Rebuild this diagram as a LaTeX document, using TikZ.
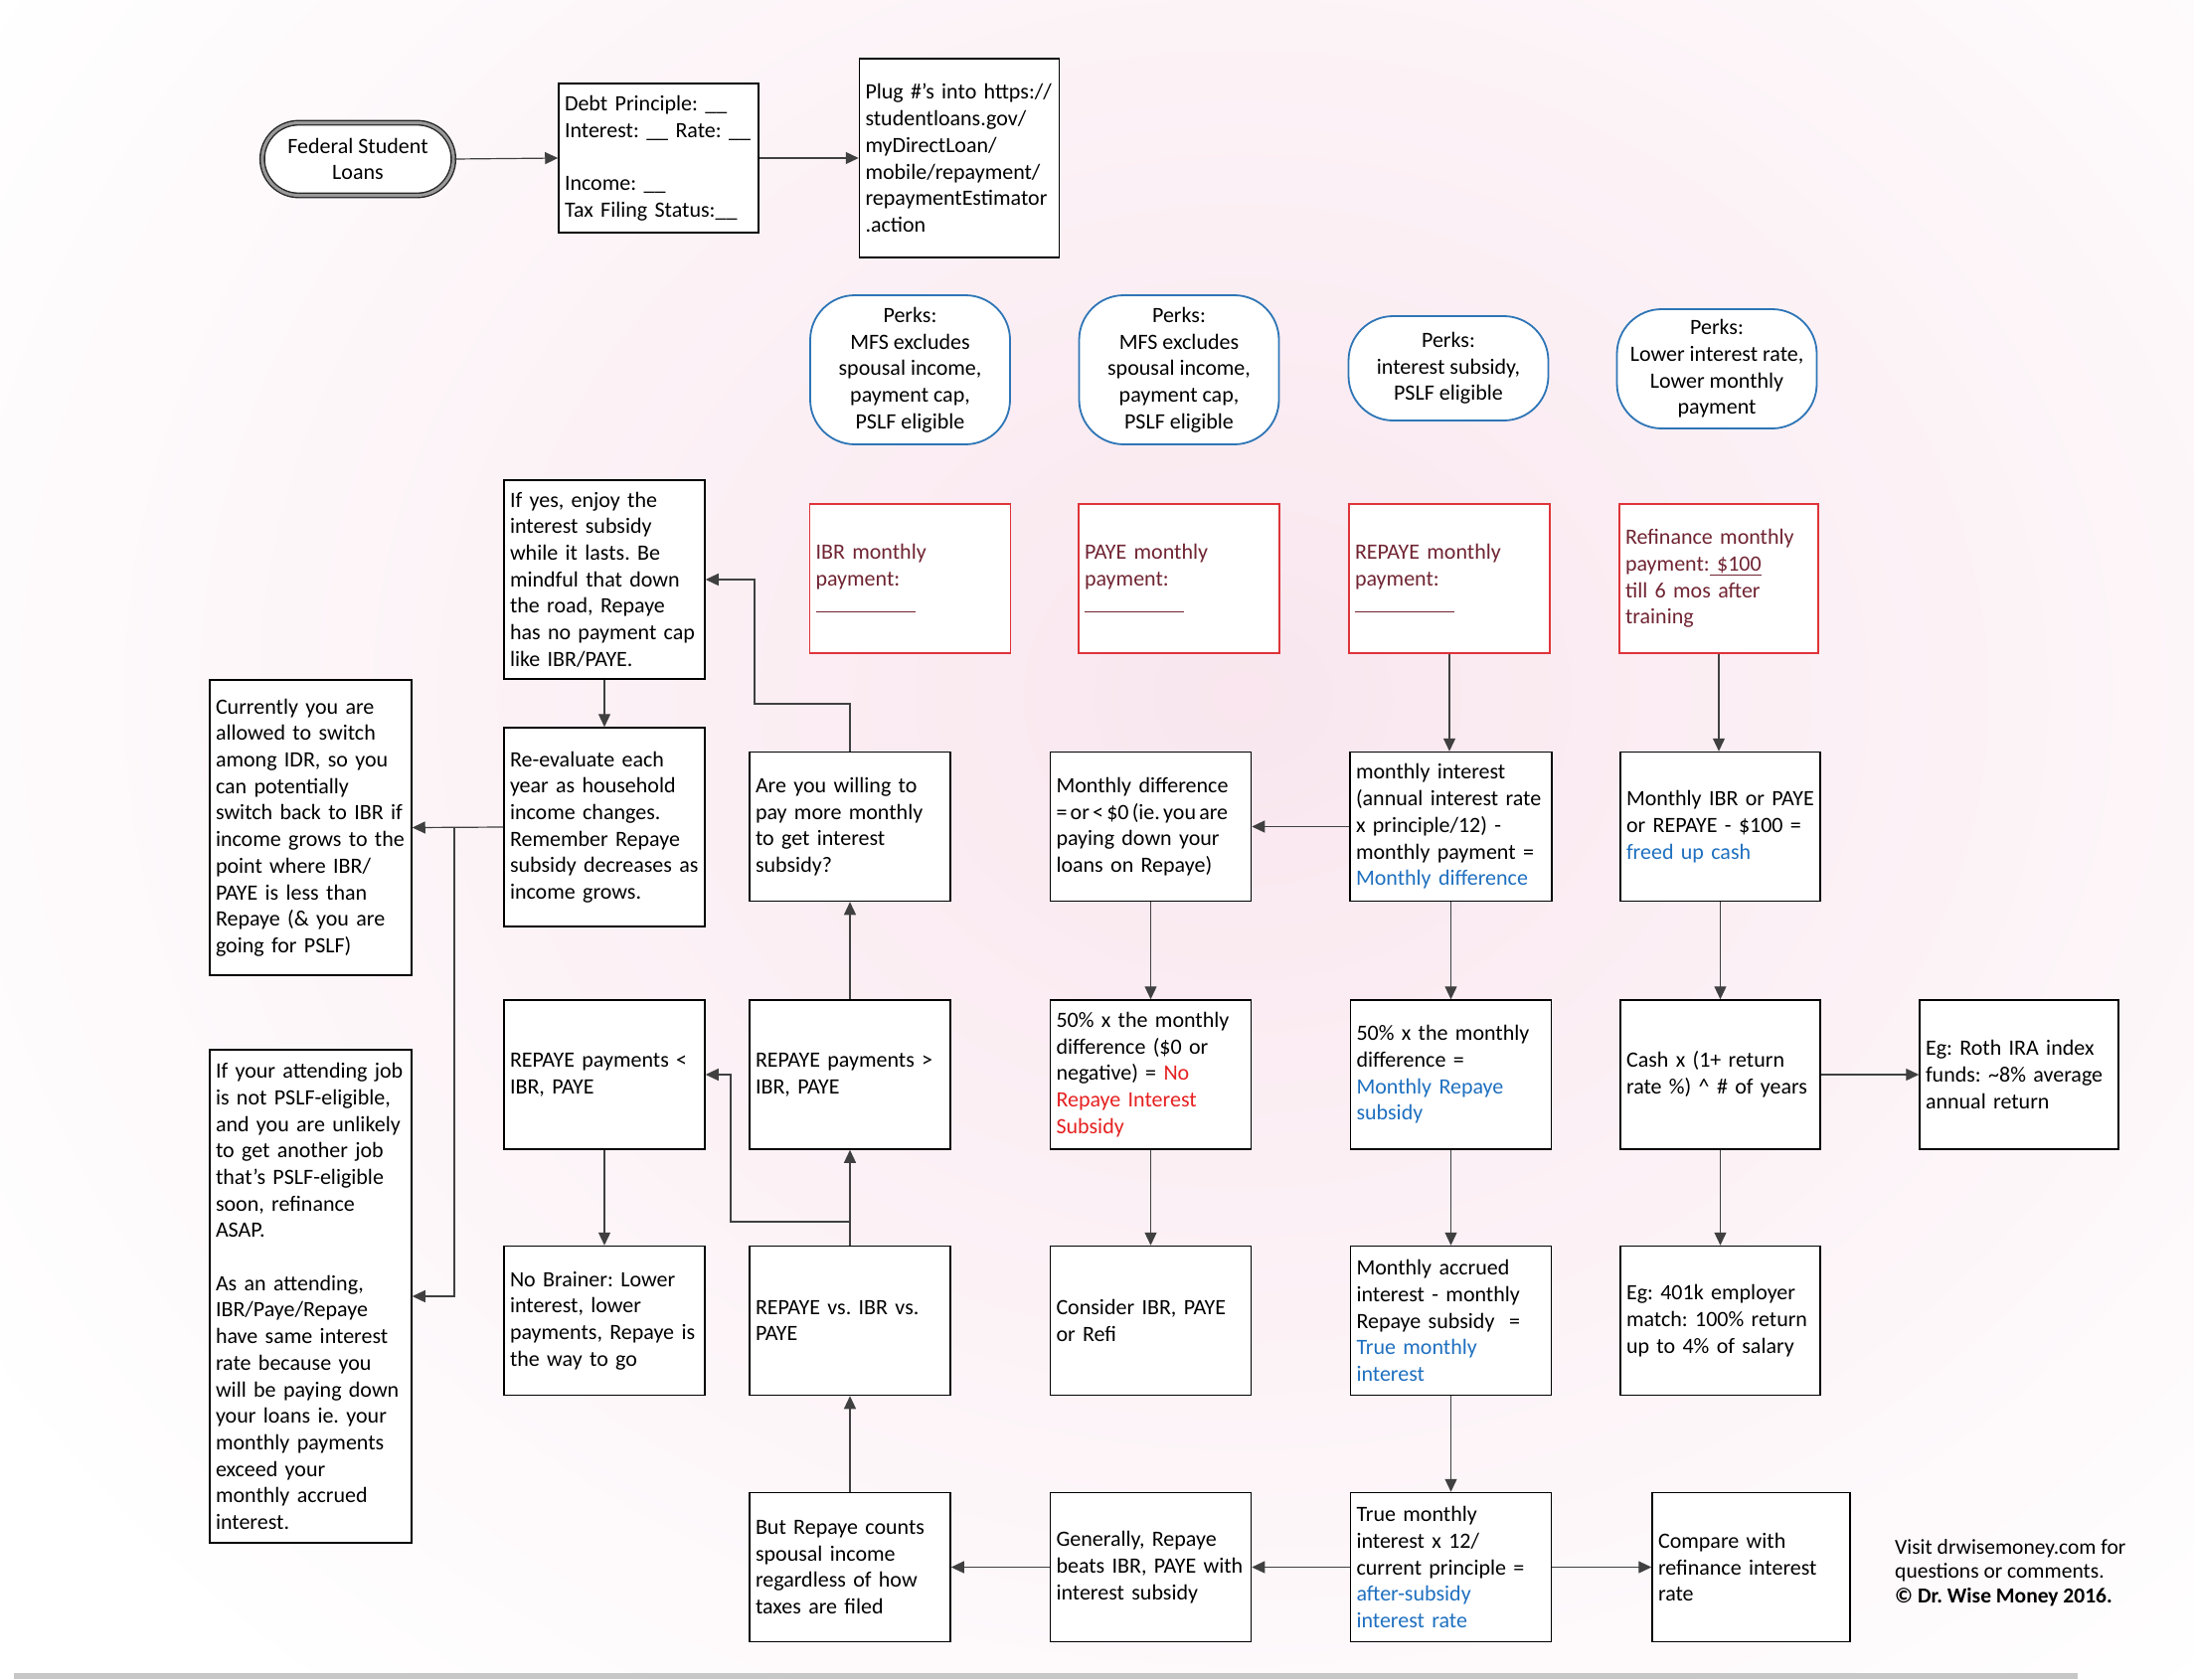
\documentclass[tikz,border=0pt]{standalone}
\usepackage{fontspec}
\setmainfont{Carlito}
\usetikzlibrary{arrows.meta,shapes.misc}
\definecolor{bluet}{RGB}{31,112,192}
\definecolor{redt}{RGB}{230,32,32}
\definecolor{redb}{RGB}{222,52,58}
\definecolor{maroonc}{RGB}{112,36,50}
\definecolor{perkb}{RGB}{46,117,182}
\definecolor{pinkbg}{RGB}{249,230,238}
\newcommand\fs{\fontsize{22}{26.7}\selectfont\frenchspacing}
\frenchspacing
\begin{document}
\begin{tikzpicture}[x=1pt,y=-1pt,
  every node/.style={font=\fs},
  bx/.style={draw=black, line width=1.5pt, fill=white, align=left, inner xsep=6pt, inner ysep=2pt, text width=190pt, minimum width=202pt, minimum height=150pt},
  redbox/.style={bx, draw=redb, text=maroonc},
  perk/.style={draw=perkb, line width=1.8pt, fill=white, rounded corners=45pt, align=center, minimum width=201pt, inner sep=2pt},
  arr/.style={draw=black!75, line width=1.2pt, -{Triangle[length=13pt,width=12pt]}},
  term/.style={rounded rectangle, draw=black!85, line width=1.4pt, double=black!40, double distance=3pt, fill=white, align=center, minimum width=199pt, minimum height=73pt}
]
\useasboundingbox (0,0) rectangle (2207,1689);
\fill[white] (0,0) rectangle (2207,1689);
\begin{scope}
\clip (0,0) rectangle (2207,1689);
\shade[inner color=pinkbg, outer color=white] (1250,700) ellipse (1500 and 1300);
\end{scope}
\fill[black!22] (14,1683) rectangle (2090,1689);

% top row
\node[term] (fsl) at (360,160) {Federal Student\\Loans};
\node[bx, minimum width=201pt, text width=189pt] (debt) at (662.5,159) {Debt Principle: \_\_\\Interest: \_\_ Rate: \_\_\\[26.7pt]Income: \_\_\\Tax Filing Status:\_\_};
\node[bx, minimum width=201pt, text width=189pt, minimum height=200pt] (plug) at (965,159) {Plug \#’s into https://\\studentloans.gov/\\myDirectLoan/\\mobile/repayment/\\repaymentEstimator\\.action};

% perks
\node[perk, minimum height=150pt] (pk1) at (915.5,372) {Perks:\\MFS excludes\\spousal income,\\payment cap,\\PSLF eligible};
\node[perk, minimum height=150pt] (pk2) at (1186,372) {Perks:\\MFS excludes\\spousal income,\\payment cap,\\PSLF eligible};
\node[perk, minimum height=105pt] (pk3) at (1457,370.5) {Perks:\\interest subsidy,\\PSLF eligible};
\node[perk, minimum height=120pt] (pk4) at (1727,371) {Perks:\\Lower interest rate,\\Lower monthly\\payment};

% red boxes
\node[redbox] (ibr) at (915.5,582) {IBR monthly\\payment:\\\rule{100pt}{1.3pt}};
\node[redbox] (paye) at (1186,582) {PAYE monthly\\payment:\\\rule{100pt}{1.3pt}};
\node[redbox] (repaye) at (1458,582) {REPAYE monthly\\payment:\\\rule{100pt}{1.3pt}};
\node[redbox, minimum width=200pt, text width=188pt] (refi) at (1729,582) {Refinance monthly\\payment:\underline{ \$100}\\till 6 mos after\\training};

% left column
\node[bx, minimum height=200pt] (ifyes) at (608,583) {If yes, enjoy the\\interest subsidy\\while it lasts. Be\\mindful that down\\the road, Repaye\\has no payment cap\\like IBR/PAYE.};
\node[bx, minimum height=200pt] (reeval) at (608,832) {Re-evaluate each\\year as household\\income changes.\\Remember Repaye\\subsidy decreases as\\income grows.};
\node[bx, minimum width=203pt, text width=191pt, minimum height=297pt] (curr) at (312.5,832.5) {Currently you are\\allowed to switch\\among IDR, so you\\can potentially\\switch back to IBR if\\income grows to the\\point where IBR/\\PAYE is less than\\Repaye (\& you are\\going for PSLF)};
\node[bx, minimum width=203pt, text width=191pt, minimum height=496pt] (att) at (312.5,1304) {If your attending job\\is not PSLF-eligible,\\and you are unlikely\\to get another job\\that’s PSLF-eligible\\soon, refinance\\ASAP.\\[26.7pt]As an attending,\\IBR/Paye/Repaye\\have same interest\\rate because you\\will be paying down\\your loans ie. your\\monthly payments\\exceed your\\monthly accrued\\interest.};

% row 1
\node[bx] (will) at (855,831.5) {Are you willing to\\pay more monthly\\to get interest\\subsidy?};
\node[bx] (mdiff) at (1157.5,831.5) {Monthly difference\\\mbox{\spaceskip=3.2pt\relax = or < \$0 (ie. you are}\\paying down your\\loans on Repaye)};
\node[bx, minimum width=203pt, text width=191pt] (mint) at (1459.5,831.5) {monthly interest\\(annual interest rate\\x principle/12) -\\monthly payment =\\\textcolor{bluet}{Monthly difference}};
\node[bx, minimum width=201pt, text width=189pt] (mibr) at (1730.5,831.5) {Monthly IBR or PAYE\\or REPAYE - \$100 =\\\textcolor{bluet}{freed up cash}};

% row 2
\node[bx] (lt) at (608,1081) {REPAYE payments <\\IBR, PAYE};
\node[bx] (gt) at (855,1081) {REPAYE payments >\\IBR, PAYE};
\node[bx] (half1) at (1157.5,1081) {50\% x the monthly\\difference (\$0 or\\negative) = \textcolor{redt}{No}\\\textcolor{redt}{Repaye Interest}\\\textcolor{redt}{Subsidy}};
\node[bx] (half2) at (1459.5,1081) {50\% x the monthly\\difference =\\\textcolor{bluet}{Monthly Repaye}\\\textcolor{bluet}{subsidy}};
\node[bx, minimum width=201pt, text width=189pt] (cash) at (1730.5,1081) {Cash x (1+ return\\rate \%) \textasciicircum{} \# of years};
\node[bx, minimum width=200pt, text width=188pt] (roth) at (2031,1081) {Eg: Roth IRA index\\funds: \textasciitilde 8\% average\\annual return};

% row 3
\node[bx] (nobr) at (608,1328.5) {No Brainer: Lower\\interest, lower\\payments, Repaye is\\the way to go};
\node[bx] (vs) at (855,1328.5) {REPAYE vs. IBR vs.\\PAYE};
\node[bx] (cons) at (1157.5,1328.5) {Consider IBR, PAYE\\or Refi};
\node[bx] (accr) at (1459.5,1328.5) {Monthly accrued\\interest - monthly\\Repaye subsidy\ \ =\\\textcolor{bluet}{True monthly}\\\textcolor{bluet}{interest}};
\node[bx, minimum width=201pt, text width=189pt] (k401) at (1730.5,1328.5) {Eg: 401k employer\\match: 100\% return\\up to 4\% of salary};

% row 4
\node[bx] (but) at (855,1576.5) {But Repaye counts\\spousal income\\regardless of how\\taxes are filed};
\node[bx] (gen) at (1157.5,1576.5) {Generally, Repaye\\beats IBR, PAYE with\\interest subsidy};
\node[bx] (truem) at (1459.5,1576.5) {True monthly\\interest x 12/\\current principle =\\\textcolor{bluet}{after-subsidy}\\\textcolor{bluet}{interest rate}};
\node[bx, minimum width=199pt, text width=187pt] (cmp) at (1761.5,1576.5) {Compare with\\refinance interest\\rate};

\node[align=left, anchor=north west, inner sep=0pt, font=\fontsize{21.5}{24.5}\selectfont\frenchspacing] (visit) at (1906,1548) {Visit drwisemoney.com for\\questions or comments.\\\textbf{© Dr. Wise Money 2016.}};

% connectors
\draw[arr] (fsl.east) -- (debt.west);
\draw[arr] (debt.east) -- (plug.west);
\draw[arr] (repaye.south) -- (repaye.south |- mint.north);
\draw[arr] (refi.south) -- (refi.south |- mibr.north);
\draw[arr] (mint.west) -- (mdiff.east);
\draw[arr] (mint.south) -- (half2.north);
\draw[arr] (mibr.south) -- (cash.north);
\draw[arr] (cash.east) -- (roth.west);
\draw[arr] (cash.south) -- (k401.north);
\draw[arr] (mdiff.south) -- (half1.north);
\draw[arr] (half1.south) -- (cons.north);
\draw[arr] (half2.south) -- (accr.north);
\draw[arr] (accr.south) -- (truem.north);
\draw[arr] (truem.west) -- (gen.east);
\draw[arr] (truem.east) -- (cmp.west);
\draw[arr] (gen.west) -- (but.east);
\draw[arr] (but.north) -- (vs.south);
\draw[arr] (vs.north) -- (gt.south);
\coordinate (j1) at (855,1229);
\coordinate (j2) at (735,1229);
\draw[arr] (j1) -- (j2) |- (lt.east);
\draw[arr] (gt.north) -- (will.south);
\coordinate (k1) at (855,708);
\coordinate (k2) at (759,708);
\draw[arr] (will.north) -- (k1) -- (k2) |- (ifyes.east);
\draw[arr] (ifyes.south) -- (reeval.north);
\draw[arr] (reeval.west) -- (curr.east);
\coordinate (b1) at (457,832);
\draw[arr] (b1) |- (att.east);
\draw[arr] (lt.south) -- (nobr.north);
\end{tikzpicture}
\end{document}
